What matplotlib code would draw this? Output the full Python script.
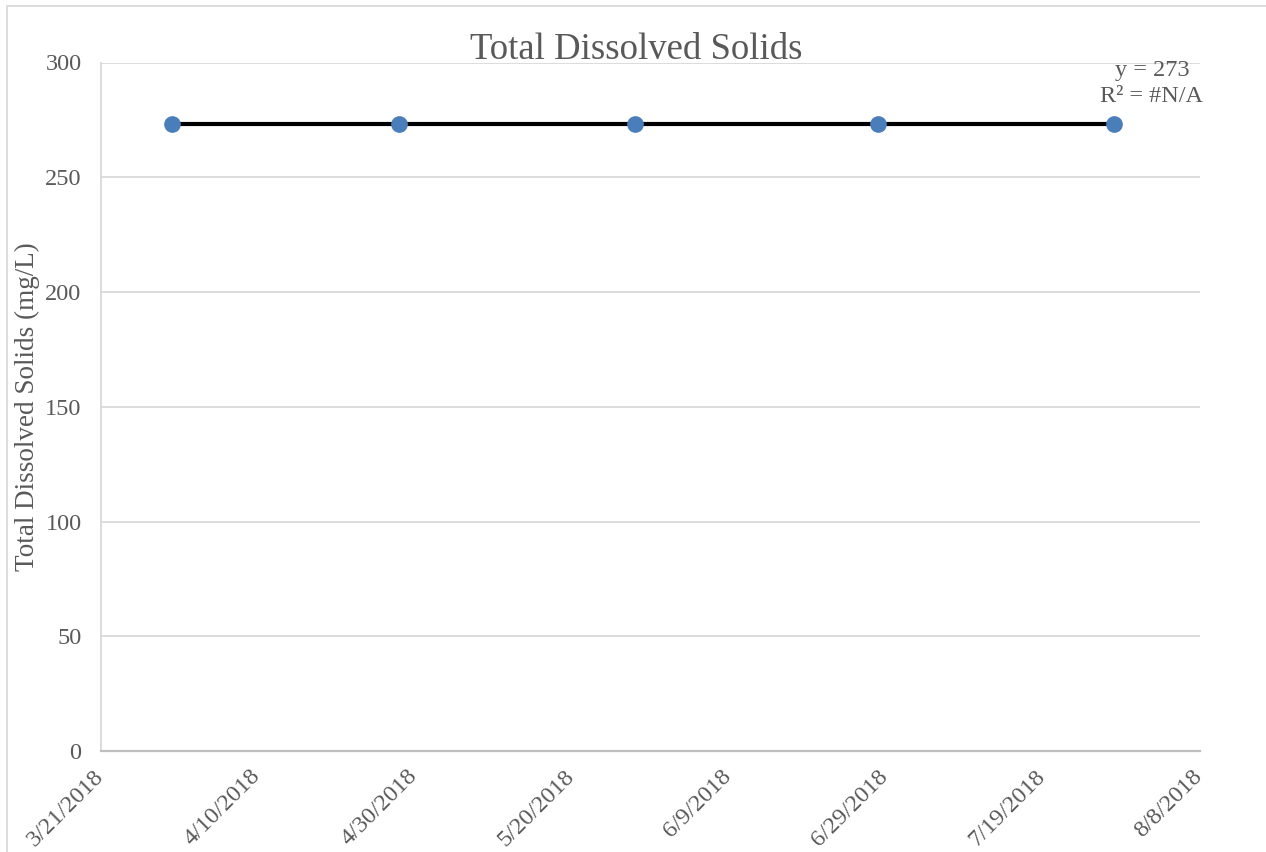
import matplotlib
matplotlib.use("Agg")
import matplotlib.pyplot as plt
import matplotlib.dates as mdates
import matplotlib.transforms as mtransforms
from matplotlib.patches import Rectangle
import numpy as np
import datetime as dt

# Sample dates and measured total dissolved solids (mg/L)
sample_dates = ["2018-03-30", "2018-04-28", "2018-05-28", "2018-06-28", "2018-07-28"]
tds_values = [273, 273, 273, 273, 273]

# Axis settings
x_start = "2018-03-21"
x_end = "2018-08-08"
x_step_days = 20
y_ticks = [0, 50, 100, 150, 200, 250, 300]

title_text = "Total Dissolved Solids"
y_label_text = "Total Dissolved Solids (mg/L)"

plt.rcParams["font.family"] = ["Liberation Serif", "DejaVu Serif"]
text_color = "#595959"

W, H = 1266, 852
fig = plt.figure(figsize=(W / 100, H / 100), dpi=100)
fig.patch.set_facecolor("white")

# chart-area frame
fig.patches.append(Rectangle((7 / W, -0.05), 1.2, 1 - 6 / H + 0.05,
                             transform=fig.transFigure, fill=False,
                             edgecolor="#d9d9d9", linewidth=1.3))

left, right, top, bottom = 101, 1200, 62.5, 751
ax = fig.add_axes([left / W, 1 - bottom / H, (right - left) / W, (bottom - top) / H])

dates = [dt.datetime.strptime(d, "%Y-%m-%d") for d in sample_dates]
x0 = dt.datetime.strptime(x_start, "%Y-%m-%d")
x1 = dt.datetime.strptime(x_end, "%Y-%m-%d")
xnum = mdates.date2num(dates)
yvals = np.array(tds_values, dtype=float)

# Linear trendline over the sampled range
coef = np.polyfit(xnum, yvals, 1)
trend_x = np.array([xnum.min(), xnum.max()])
trend_y = np.polyval(coef, trend_x)

ax.plot(trend_x, trend_y, color="black", linewidth=3.0, zorder=3, solid_capstyle="butt")
ax.plot(xnum, yvals, linestyle="none", marker="o", markersize=11,
        markerfacecolor="#4a7ebb", markeredgecolor="#4a7ebb", zorder=4)

ax.set_xlim(mdates.date2num(x0), mdates.date2num(x1))
ax.set_ylim(min(y_ticks), max(y_ticks))
ax.set_yticks(y_ticks)
tick_dates = [x0 + dt.timedelta(days=k) for k in range(0, (x1 - x0).days + 1, x_step_days)]
ax.set_xticks(mdates.date2num(tick_dates))
ax.set_xticklabels([f"{d.month}/{d.day}/{d.year}" for d in tick_dates])

ax.grid(axis="y", color="#d9d9d9", linewidth=1.3)
ax.set_axisbelow(True)
for s in ["top", "right"]:
    ax.spines[s].set_visible(False)
ax.spines["left"].set_color("#d9d9d9")
ax.spines["left"].set_linewidth(1.3)
ax.spines["bottom"].set_color("#bfbfbf")
ax.spines["bottom"].set_linewidth(1.6)

ax.tick_params(axis="both", length=0, labelsize=17.5, colors=text_color)
ax.tick_params(axis="y", pad=14)
ax.tick_params(axis="x", pad=16)
for lab in ax.get_xticklabels():
    lab.set_rotation(45)
    lab.set_ha("right")
    lab.set_va("center")
    lab.set_rotation_mode("anchor")
    lab.set_transform(lab.get_transform() +
                      mtransforms.ScaledTranslation(-1 / 100, 0, fig.dpi_scale_trans))

fig.text(636 / W, 1 - 59 / H, title_text, ha="center", va="baseline",
         fontsize=26.5, color=text_color)
fig.text(27 / W, 1 - 407 / H, y_label_text, rotation=90, ha="center", va="center",
         fontsize=19.5, color=text_color)

# Trendline equation
slope, intercept = coef
eq_text = f"y = {intercept + slope * 0:.0f}" if abs(slope) < 1e-9 else f"y = {slope:.4f}x + {intercept:.1f}"
fig.text(1152 / W, 1 - 76 / H, eq_text, ha="center", va="baseline",
         fontsize=17.5, color=text_color)
fig.text(1152 / W, 1 - 102 / H, "R² = #N/A", ha="center", va="baseline",
         fontsize=17.5, color=text_color)

fig.savefig("out.png", dpi=100, facecolor="white")
